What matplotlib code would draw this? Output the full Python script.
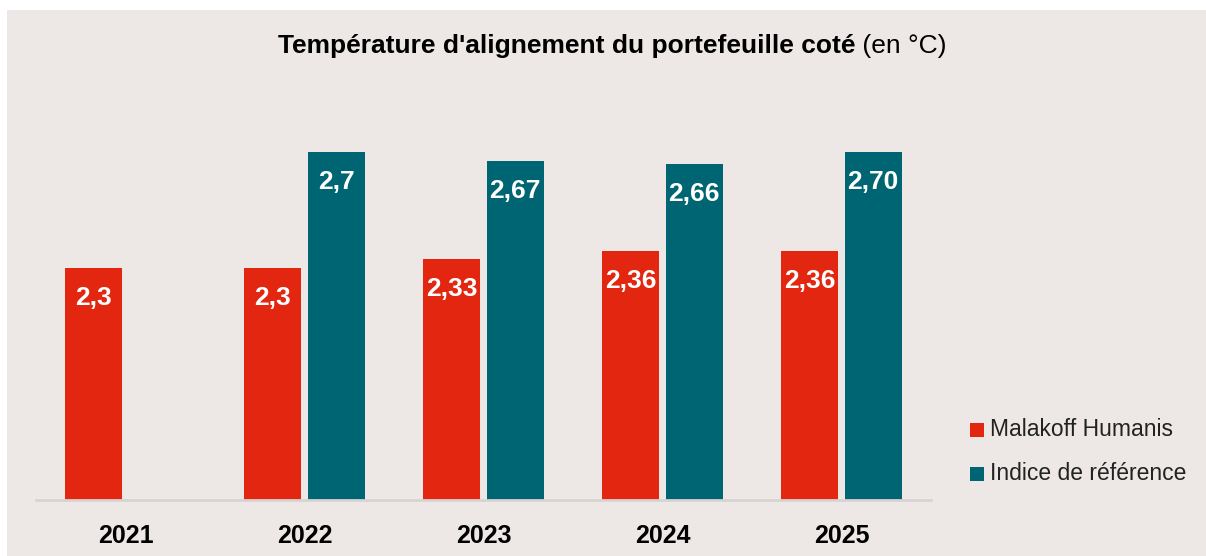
import numpy as np
import matplotlib
matplotlib.use("Agg")
import matplotlib.pyplot as plt
from matplotlib.patches import Rectangle

# ── données ──────────────────────────────────────────────
years = ["2021", "2022", "2023", "2024", "2025"]
malakoff = [2.3, 2.3, 2.33, 2.36, 2.36]
malakoff_lbl = ["2,3", "2,3", "2,33", "2,36", "2,36"]
indice = [np.nan, 2.7, 2.67, 2.66, 2.70]
indice_lbl = ["", "2,7", "2,67", "2,66", "2,70"]
series_names = ["Malakoff Humanis", "Indice de référence"]

RED = "#E3260F"
TEAL = "#006573"
BG = "#EDE8E6"

plt.rcParams["font.family"] = ["Liberation Sans", "DejaVu Sans"]

fig = plt.figure(figsize=(12.06, 5.56), dpi=100, facecolor="white")
# panneau de fond
fig.patches.append(Rectangle((7 / 1206, 0), 1, 1 - 10 / 556, transform=fig.transFigure,
                             facecolor=BG, edgecolor="none", zorder=-10))

ax = fig.add_axes([36 / 1206, 56 / 556, 895 / 1206, 406 / 556])
ax.set_facecolor("none")

x = np.arange(len(years))
w = 0.32
off = 0.177
b1 = ax.bar(x - off, malakoff, w, color=RED)
b2 = ax.bar(x + off, indice, w, color=TEAL)

ax.set_ylim(1.5, 2.9)
ax.set_xlim(-0.5, 4.5)

for bars, lbls in [(b1, malakoff_lbl), (b2, indice_lbl)]:
    for bar, lbl in zip(bars, lbls):
        if not lbl:
            continue
        ax.annotate(lbl, (bar.get_x() + bar.get_width() / 2, bar.get_height()),
                    xytext=(0, -30), textcoords="offset pixels",
                    ha="center", va="center", color="white",
                    fontsize=19, fontweight="bold")

for s in ["top", "right", "left"]:
    ax.spines[s].set_visible(False)
ax.spines["bottom"].set_color("#D6D3D2")
ax.spines["bottom"].set_linewidth(2)
ax.set_yticks([])
ax.set_xticks(x)
ax.set_xticklabels(years, fontsize=18, fontweight="bold", color="black")
ax.tick_params(axis="x", length=0, pad=17)

# titre : partie grasse + partie normale
t1 = fig.text(0, 1 - 46 / 556, "Température d'alignement du portefeuille coté",
              fontsize=19, fontweight="bold", va="center", ha="left")
t2 = fig.text(0, 1 - 46 / 556, " (en °C)", fontsize=19, va="center", ha="left")
fig.canvas.draw()
r = fig.canvas.get_renderer()
w1 = t1.get_window_extent(r).width
w2 = t2.get_window_extent(r).width
x0 = 612 - (w1 + w2) / 2
t1.set_x(x0 / 1206)
t2.set_x((x0 + w1) / 1206)

# légende
for i, (name, col) in enumerate(zip(series_names, [RED, TEAL])):
    yc = 430 + i * 44
    fig.patches.append(Rectangle((970 / 1206, 1 - (yc + 7) / 556), 14 / 1206, 14 / 556,
                                 transform=fig.transFigure, facecolor=col, edgecolor="none"))
    fig.text(990 / 1206, 1 - yc / 556, name, fontsize=16.5, color="#222222",
             va="center", ha="left")

fig.savefig("out.png", dpi=100, facecolor="white")
